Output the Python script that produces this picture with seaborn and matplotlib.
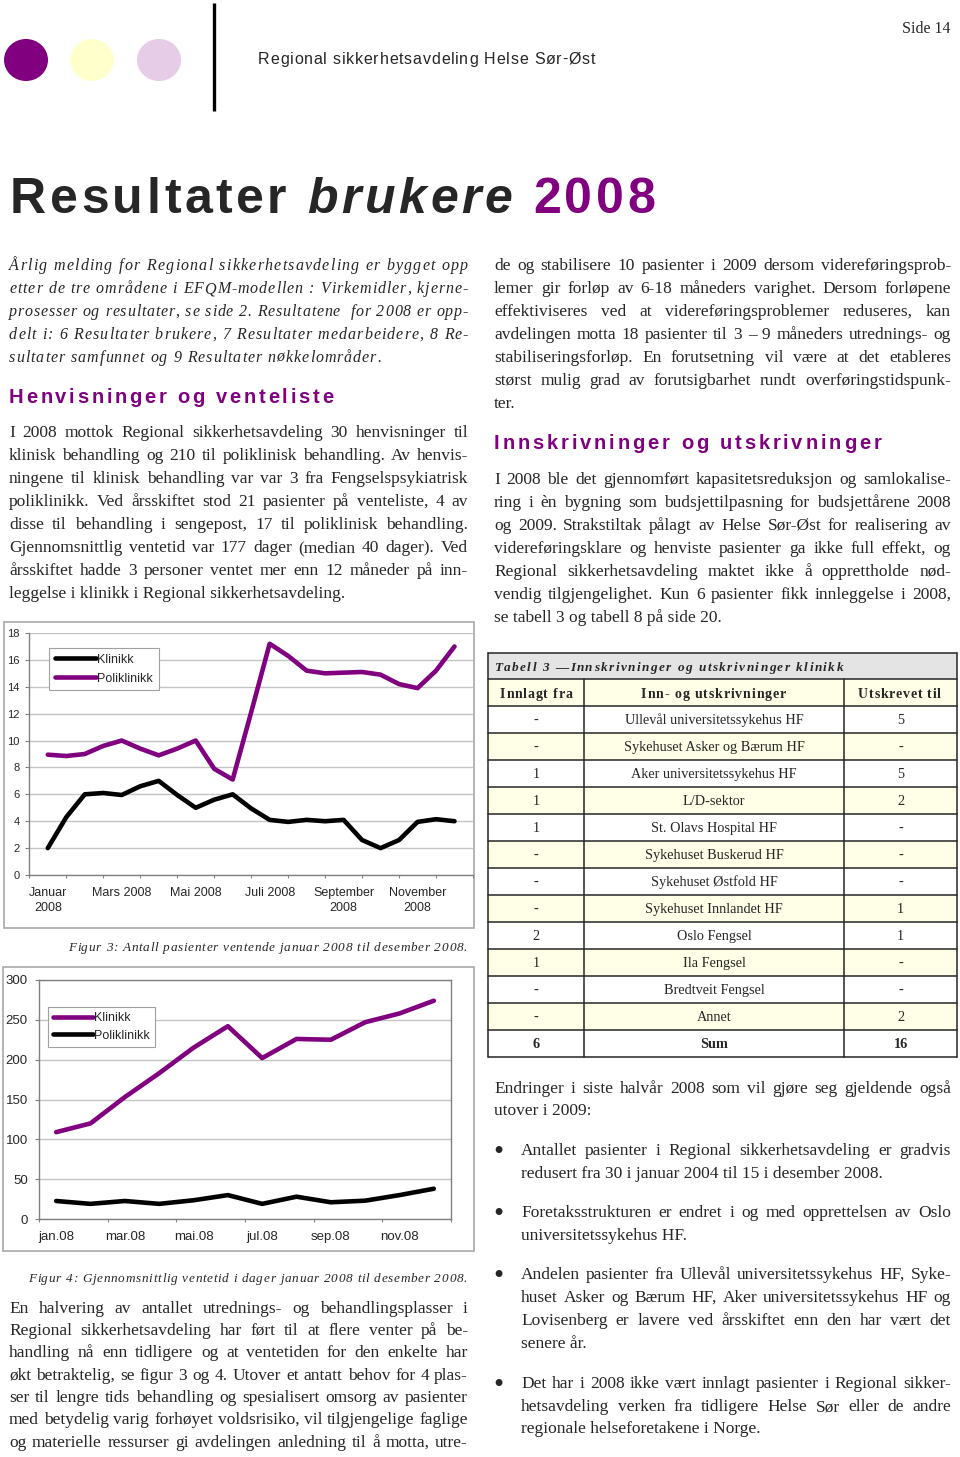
import numpy as np
import pandas as pd
import matplotlib
matplotlib.use('Agg')
import matplotlib.pyplot as plt
import seaborn as sns
from matplotlib.patches import Rectangle, Ellipse
from matplotlib import font_manager
from matplotlib.ft2font import FT2Font

W, H = 960, 1457
PURPLE = '#800080'
SANS = 'Liberation Sans'
SERIF = 'Liberation Serif'
BODY = 12.5

# Figur 3: antall pasienter ventende (halvmånedlige målinger)
fig3_pos = [0.5, 1.0, 1.5, 2.0, 2.5, 3.0, 3.5, 4.0, 4.5, 5.0, 5.5, 6.0,
            6.5, 7.0, 7.5, 8.0, 8.5, 9.0, 9.5, 10.0, 10.5, 11.0, 11.5]
fig3_klinikk = [2.0, 4.3, 6.0, 6.1, 5.95, 6.6, 7.0, 5.95, 5.0, 5.6, 6.0, 4.95,
                4.1, 3.95, 4.1, 4.0, 4.1, 2.6, 2.0, 2.6, 3.95, 4.15, 4.0]
fig3_poliklinikk = [8.95, 8.85, 9.0, 9.6, 10.0, 9.4, 8.9, 9.4, 10.0, 7.9, 7.1, 12.1,
                    17.2, 16.3, 15.2, 15.0, 15.05, 15.1, 14.9, 14.2, 13.9, 15.2, 17.0]
fig3_label_pos = [0.5, 2.5, 4.5, 6.5, 8.5, 10.5]
fig3_labels = ['Januar\n2008', 'Mars 2008', 'Mai 2008', 'Juli 2008',
               'September\n2008', 'November\n2008']

# Figur 4: gjennomsnittlig ventetid i dager (månedlig)
fig4_pos = [0.5, 1.5, 2.5, 3.5, 4.5, 5.5, 6.5, 7.5, 8.5, 9.5, 10.5, 11.5]
fig4_klinikk = [109, 120, 153, 183, 215, 242, 202, 226, 225, 247, 258, 274]
fig4_poliklinikk = [22.6, 19, 22.6, 19, 23.5, 30, 19, 28, 21, 23, 30, 38]
fig4_label_pos = [0.5, 2.5, 4.5, 6.5, 8.5, 10.5]
fig4_labels = ['jan.08', 'mar.08', 'mai.08', 'jul.08', 'sep.08', 'nov.08']

# Tabell 3
tab_innlagt = ['-', '-', '1', '1', '1', '-', '-', '-', '2', '1', '-', '-']
tab_sted = ['Ullevål universitetssykehus HF', 'Sykehuset Asker og Bærum HF',
            'Aker universitetssykehus HF', 'L/D-sektor', 'St. Olavs Hospital HF',
            'Sykehuset Buskerud HF', 'Sykehuset Østfold HF', 'Sykehuset Innlandet HF',
            'Oslo Fengsel', 'Ila Fengsel', 'Bredtveit Fengsel', 'Annet']
tab_utskrevet = ['5', '-', '5', '2', '-', '-', '-', '1', '1', '-', '-', '2']
tab_sum = ['6', 'Sum', '16']

sns.set_style('white')
plt.rcParams['font.family'] = [SANS, 'DejaVu Sans']

fig = plt.figure(figsize=(W / 100, H / 100), dpi=100)
page = fig.add_axes([0, 0, 1, 1], zorder=0)
page.set_xlim(0, W)
page.set_ylim(H, 0)
page.axis('off')
renderer = fig.canvas.get_renderer()


def box(x0, y0, x1, y1):
    return [x0 / W, 1 - y1 / H, (x1 - x0) / W, (y1 - y0) / H]


_fonts = {}


def advance(c, family, size, weight='normal', style='normal'):
    key = (family, weight, style)
    if key not in _fonts:
        fp = font_manager.FontProperties(family=family, weight=weight, style=style)
        _fonts[key] = FT2Font(font_manager.findfont(fp))
    f = _fonts[key]
    f.set_size(size, 100)
    return f.load_char(ord(c)).linearHoriAdvance / 65536


def tracked(parts, x0, x1, y, size, family):
    items = []
    for txt, kw in parts:
        for c in txt:
            a = advance(c, family, size, kw.get('weight', 'normal'), kw.get('style', 'normal'))
            items.append((c, a, kw))
    total = sum(a for _, a, _ in items)
    extra = (x1 - x0 - total) / (len(items) - 1)
    x = x0
    for c, a, kw in items:
        if c != ' ':
            page.text(x, y, c, family=[family, 'DejaVu Sans'], fontsize=size, va='baseline', **kw)
        x += a + extra


def justify(line, x0, x1, y, size=BODY, style='normal'):
    words = line.split()
    ts = [page.text(0, y, w, family=[SERIF, 'DejaVu Serif'], fontsize=size,
                    style=style, va='baseline') for w in words]
    ws = [t.get_window_extent(renderer).width for t in ts]
    min_gap = 3.0
    need = sum(ws) + min_gap * (len(words) - 1)
    if need > x1 - x0:
        # line too long for this font: shrink it slightly
        scale = (x1 - x0 - min_gap * (len(words) - 1)) / sum(ws)
        for t in ts:
            t.set_fontsize(size * scale)
        ws = [w * scale for w in ws]
    gap = (x1 - x0 - sum(ws)) / max(len(words) - 1, 1)
    x = x0
    for t, w in zip(ts, ws):
        t.set_x(x)
        x += w + gap


def plain(line, x, y, size=BODY, **kw):
    page.text(x, y, line, family=[SERIF, 'DejaVu Serif'], fontsize=size, va='baseline', **kw)


def paragraph(lines, baselines, x0, x1, last_full=False):
    for i, (line, y) in enumerate(zip(lines, baselines)):
        if i == len(lines) - 1 and not last_full:
            plain(line, x0, y)
        else:
            justify(line, x0, x1, y)


# ---------- header ----------
for cx, col in [(26, PURPLE), (92, '#FFFFCC'), (159, '#E6CCE6')]:
    page.add_patch(Ellipse((cx, 60), 44, 42, fc=col, ec='none'))
page.plot([214, 214], [3, 111], color='black', lw=2.4, solid_capstyle='butt')
tracked([('Regional sikkerhetsavdeling Helse Sør-Øst', {})], 258, 595, 64, 11.5, SANS)
plain('Side 14', 950, 33, size=11.5, ha='right')

tracked([('Resultater ', {'weight': 'bold'}),
         ('brukere', {'weight': 'bold', 'style': 'italic'}),
         (' 2008', {'weight': 'bold', 'color': PURPLE})], 10, 655, 213, 36, SANS)

# ---------- left column ----------
intro = ["Årlig melding for Regional sikkerhetsavdeling er bygget opp",
         "etter de tre områdene i EFQM-modellen : Virkemidler, kjerne-",
         "prosesser og resultater, se side 2. Resultatene  for 2008 er opp-",
         "delt i: 6 Resultater brukere, 7 Resultater medarbeidere, 8 Re-",
         "sultater samfunnet og 9 Resultater nøkkelområder."]
intro_y = [270, 293, 316, 339, 362]
intro_end = [468, 468, 468, 468, 381]
for line, y, xe in zip(intro, intro_y, intro_end):
    tracked([(line, {'style': 'italic'})], 9, xe, y, 11.5, SERIF)

tracked([('Henvisninger og venteliste', {'weight': 'bold', 'color': PURPLE})], 9, 333, 403, 14.5, SANS)

para1 = ["I 2008 mottok Regional sikkerhetsavdeling 30 henvisninger til",
         "klinisk behandling  og 210 til poliklinisk behandling. Av henvis-",
         "ningene til klinisk behandling var var 3 fra Fengselspsykiatrisk",
         "poliklinikk. Ved årsskiftet stod 21 pasienter på venteliste, 4 av",
         "disse til behandling i sengepost, 17 til poliklinisk behandling.",
         "Gjennomsnittlig ventetid var 177 dager (median 40 dager). Ved",
         "årsskiftet hadde 3 personer ventet mer enn 12 måneder på inn-",
         "leggelse i klinikk i Regional sikkerhetsavdeling."]
paragraph(para1, [437, 460, 483, 506, 529, 552, 575, 598], 9, 468)

para_bottom = ["En halvering av antallet utrednings- og behandlingsplasser i",
               "Regional sikkerhetsavdeling har ført til at flere venter på be-",
               "handling nå enn tidligere og at ventetiden for den enkelte har",
               "økt betraktelig, se figur 3 og 4. Utover et antatt behov for 4 plas-",
               "ser til lengre tids behandling og spesialisert omsorg av pasienter",
               "med betydelig varig forhøyet voldsrisiko, vil tilgjengelige faglige",
               "og materielle ressurser gi avdelingen anledning til å motta, utre-"]
paragraph(para_bottom, [1313, 1335, 1357, 1380, 1402, 1424, 1447], 9, 468, last_full=True)

tracked([('Figur 3: Antall pasienter ventende januar 2008 til desember 2008.', {'style': 'italic'})],
        68, 467, 951, 9.5, SERIF)
tracked([('Figur 4: Gjennomsnittlig ventetid i dager januar 2008 til desember 2008.', {'style': 'italic'})],
        28, 467, 1282, 9.5, SERIF)

# ---------- right column ----------
paraR1 = ["de og stabilisere 10 pasienter i 2009 dersom videreføringsprob-",
          "lemer gir forløp av 6-18 måneders varighet. Dersom forløpene",
          "effektiviseres ved at videreføringsproblemer reduseres, kan",
          "avdelingen motta 18 pasienter til 3 – 9 måneders utrednings- og",
          "stabiliseringsforløp. En forutsetning vil være at det etableres",
          "størst mulig grad av forutsigbarhet rundt overføringstidspunk-",
          "ter."]
paragraph(paraR1, [270, 293, 316, 339, 362, 385, 408], 494, 951)

tracked([('Innskrivninger og utskrivninger', {'weight': 'bold', 'color': PURPLE})], 494, 881, 449, 14.5, SANS)

paraR2 = ["I 2008 ble det gjennomført kapasitetsreduksjon og samlokalise-",
          "ring i èn bygning som budsjettilpasning for budsjettårene 2008",
          "og 2009. Strakstiltak pålagt av Helse Sør-Øst for realisering av",
          "videreføringsklare og henviste pasienter ga ikke full effekt, og",
          "Regional sikkerhetsavdeling maktet ikke å opprettholde nød-",
          "vendig tilgjengelighet. Kun 6 pasienter fikk innleggelse i 2008,",
          "se tabell 3 og tabell 8 på side 20."]
paragraph(paraR2, [484, 507, 530, 553, 576, 599, 622], 494, 951)

paragraph(["Endringer i siste halvår 2008 som vil gjøre seg gjeldende også",
           "utover i 2009:"], [1093, 1115], 494, 951)

bullets = [
    (["Antallet pasienter i Regional sikkerhetsavdeling er gradvis",
      "redusert fra 30 i januar 2004 til 15 i desember 2008."], [1155, 1178]),
    (["Foretaksstrukturen er endret i og med opprettelsen av Oslo",
      "universitetssykehus HF."], [1217, 1240]),
    (["Andelen pasienter fra Ullevål universitetssykehus HF, Syke-",
      "huset Asker og Bærum HF, Aker universitetssykehus HF  og",
      "Lovisenberg er lavere ved årsskiftet enn den har vært det",
      "senere år."], [1279, 1302, 1325, 1348]),
    (["Det har i 2008 ikke vært innlagt pasienter i Regional sikker-",
      "hetsavdeling verken fra tidligere Helse Sør eller de andre",
      "regionale helseforetakene i Norge."], [1388, 1411, 1433]),
]
for lines, ys in bullets:
    plain('•', 498, ys[0] + 5, size=21, ha='center')
    paragraph(lines, ys, 521, 951)

# ---------- table ----------
cols = [488, 584, 844, 957]
top, title_h, head_h, row_h = 653, 26, 27, 27
n_rows = len(tab_sted) + 1
bottom = top + title_h + head_h + n_rows * row_h
page.add_patch(Rectangle((cols[0], top), cols[-1] - cols[0], title_h, fc='#E4E4E4', ec='none'))
page.add_patch(Rectangle((cols[0], top + title_h), cols[-1] - cols[0], head_h, fc='#FFFEE6', ec='none'))
for i in range(n_rows):
    y0 = top + title_h + head_h + i * row_h
    fc = '#FFFEE6' if i % 2 == 1 else 'white'
    page.add_patch(Rectangle((cols[0], y0), cols[-1] - cols[0], row_h, fc=fc, ec='none'))
lc = '#262626'
hlines = [top, top + title_h] + [top + title_h + head_h + i * row_h for i in range(n_rows + 1)]
for y in hlines:
    page.plot([cols[0], cols[-1]], [y, y], color=lc, lw=1.1)
for x in [cols[0], cols[-1]]:
    page.plot([x, x], [top, bottom], color=lc, lw=1.1)
for x in cols[1:-1]:
    page.plot([x, x], [top + title_h, bottom], color=lc, lw=1.1)

tracked([('Tabell 3 —Innskrivninger og utskrivninger klinikk', {'weight': 'bold', 'style': 'italic'})],
        494, 843, top + 18, 9.5, SERIF)
hy = top + title_h + 19
tracked([('Innlagt fra', {'weight': 'bold'})], 500, 572, hy, 10, SERIF)
tracked([('Inn- og utskrivninger', {'weight': 'bold'})], 641, 786, hy, 10, SERIF)
tracked([('Utskrevet til', {'weight': 'bold'})], 858, 941, hy, 10, SERIF)
centers = [(cols[0] + cols[1]) / 2, (cols[1] + cols[2]) / 2, (cols[2] + cols[3]) / 2]
rows = list(zip(tab_innlagt, tab_sted, tab_utskrevet)) + [tuple(tab_sum)]
for i, row in enumerate(rows):
    y = top + title_h + head_h + i * row_h + 18
    bold = 'bold' if i == len(rows) - 1 else 'normal'
    for cx, val in zip(centers, row):
        plain(val, cx, y, size=10.3, ha='center', weight=bold)

# ---------- chart frames ----------
page.add_patch(Rectangle((4, 622), 470, 306, fill=False, ec='#a8a8a8', lw=1.2))
page.add_patch(Rectangle((3, 967), 471, 284, fill=False, ec='#a8a8a8', lw=1.2))

# ---------- figur 3 ----------
ax3 = fig.add_axes(box(29.3, 633, 473, 875), zorder=2)
df3 = pd.DataFrame({
    'pos': fig3_pos * 2,
    'antall': fig3_klinikk + fig3_poliklinikk,
    'serie': ['Klinikk'] * len(fig3_pos) + ['Poliklinikk'] * len(fig3_pos),
})
sns.lineplot(data=df3, x='pos', y='antall', hue='serie',
             palette={'Klinikk': 'black', 'Poliklinikk': PURPLE},
             linewidth=3.3, solid_joinstyle='round', solid_capstyle='round', ax=ax3)
ax3.set_xlim(0, 12)
ax3.set_ylim(0, 18)
ax3.set_yticks(range(0, 19, 2))
ax3.set_xticks(range(0, 13))
ax3.set_xticks(fig3_label_pos, minor=True)
ax3.set_xticklabels(fig3_labels, minor=True)
ax3.tick_params(axis='x', which='major', bottom=True, length=2.5, color='#808080', labelbottom=False)
ax3.tick_params(axis='x', which='minor', bottom=True, length=0, pad=8.5, labelsize=9)
ax3.tick_params(axis='y', left=True, length=3, color='#808080', pad=4, labelsize=8)
for lbl in ax3.get_xticklabels(minor=True):
    lbl.set_linespacing(1.35)
ax3.set_xlabel('')
ax3.set_ylabel('')
ax3.grid(axis='y', color='#c4c4c4', lw=1)
ax3.set_axisbelow(True)
for s in ['top', 'right']:
    ax3.spines[s].set_visible(False)
for s in ['left', 'bottom']:
    ax3.spines[s].set_color('#808080')
    ax3.spines[s].set_linewidth(1)
h3, l3 = ax3.get_legend_handles_labels()
leg3 = ax3.legend(h3, l3, loc='upper left', bbox_to_anchor=(49 / W, 1 - 648 / H),
                  bbox_transform=fig.transFigure, fancybox=False, edgecolor='#a0a0a0',
                  framealpha=1, fontsize=9, handlelength=3.3, handletextpad=0.1,
                  labelspacing=0.55, borderpad=0.45, borderaxespad=0)
leg3.get_frame().set_linewidth(0.8)

# ---------- figur 4 ----------
ax4 = fig.add_axes(box(39, 980, 451, 1219), zorder=2)
df4 = pd.DataFrame({
    'pos': fig4_pos * 2,
    'dager': fig4_klinikk + fig4_poliklinikk,
    'serie': ['Klinikk'] * len(fig4_pos) + ['Poliklinikk'] * len(fig4_pos),
})
sns.lineplot(data=df4, x='pos', y='dager', hue='serie',
             palette={'Klinikk': PURPLE, 'Poliklinikk': 'black'},
             linewidth=3.3, solid_joinstyle='round', solid_capstyle='round', ax=ax4)
ax4.set_xlim(0, 12)
ax4.set_ylim(0, 300)
ax4.set_yticks(range(0, 301, 50))
ax4.set_xticks(range(0, 13, 2))
ax4.set_xticks(fig4_label_pos, minor=True)
ax4.set_xticklabels(fig4_labels, minor=True)
ax4.tick_params(axis='x', which='major', bottom=True, length=2.5, color='#808080', labelbottom=False)
ax4.tick_params(axis='x', which='minor', bottom=True, length=0, pad=8.5, labelsize=9.5)
ax4.tick_params(axis='y', left=True, length=3, color='#808080', pad=5, labelsize=9.5)
ax4.set_xlabel('')
ax4.set_ylabel('')
ax4.grid(axis='y', color='#c4c4c4', lw=1)
ax4.set_axisbelow(True)
for s in ['top', 'right', 'left', 'bottom']:
    ax4.spines[s].set_color('#808080')
    ax4.spines[s].set_linewidth(1)
h4, l4 = ax4.get_legend_handles_labels()
leg4 = ax4.legend(h4, l4, loc='upper left', bbox_to_anchor=(48 / W, 1 - 1007 / H),
                  bbox_transform=fig.transFigure, fancybox=False, edgecolor='#a0a0a0',
                  framealpha=1, fontsize=9, handlelength=3.2, handletextpad=0.1,
                  labelspacing=0.45, borderpad=0.4, borderaxespad=0)
leg4.get_frame().set_linewidth(0.8)

fig.savefig('out.png', dpi=100)
